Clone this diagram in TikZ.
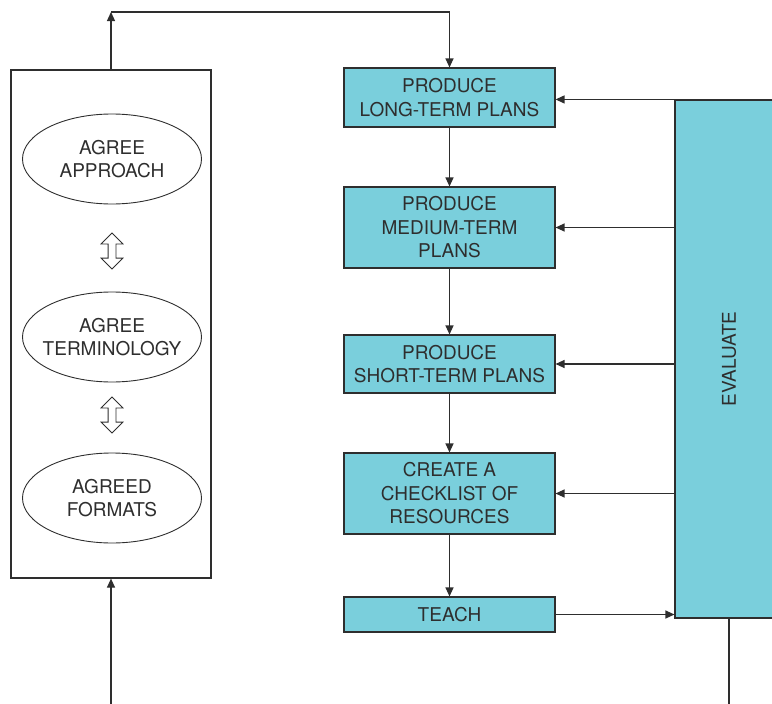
\documentclass[tikz,border=0pt]{standalone}
\usepackage{fontspec}
\setmainfont{TeX Gyre Heros}
\usepackage{xcolor}
\usetikzlibrary{calc}
\usetikzlibrary{shapes.geometric,shapes.arrows,arrows.meta}
\definecolor{planfill}{HTML}{7ACFDC}
\definecolor{ink}{HTML}{2E2E2E}
\newcommand{\ovalline}[1]{\makebox[0pt]{#1}}
\tikzset{
    plan/.style={draw=ink, line width=1.1pt, fill=planfill, minimum width=211pt, align=center, inner sep=0pt, text=ink, font=\fontsize{19}{23.5}\selectfont},
    agreeoval/.style={draw=ink, ellipse, line width=0.9pt, minimum width=179pt, minimum height=90pt, inner sep=0pt, align=center, text=ink, font=\fontsize{19}{23.5}\selectfont},
    swap/.style={draw=ink, double arrow, line width=0.8pt, rotate=90, inner sep=3.5pt, minimum height=36pt, double arrow head extend=7pt},
    arr/.style={draw=ink, line width=1.2pt, -{Triangle[length=9pt,width=8pt]}}
}
\begin{document}
\begin{tikzpicture}[x=1pt, y=-1pt]
    \useasboundingbox (0,0) rectangle (772,704);
    %KOTAK KIRI
    \node[draw=ink, line width=1.2pt, minimum width=200pt, minimum height=508pt] (agree) at (111,324) {};
    \node[agreeoval] (approach) at (112,159) {\ovalline{AGREE}\\\ovalline{APPROACH}};
    \node[agreeoval] (terms) at (112,337) {\ovalline{AGREE}\\\ovalline{TERMINOLOGY}};
    \node[agreeoval] (formats) at (112,498) {\ovalline{AGREED}\\\ovalline{FORMATS}};
    \node[swap] (swapa) at (112,251) {};
    \node[swap] (swapb) at (112,415) {};
    %RENCANA
    \node[plan, minimum height=59pt] (long) at (449.5,97.5) {PRODUCE\\LONG-TERM PLANS};
    \node[plan, minimum height=81pt] (medium) at (449.5,227.5) {PRODUCE\\MEDIUM-TERM\\PLANS};
    \node[plan, minimum height=58pt] (short) at (449.5,364) {PRODUCE\\SHORT-TERM PLANS};
    \node[plan, minimum height=81pt] (check) at (449.5,493.5) {CREATE A\\CHECKLIST OF\\RESOURCES};
    \node[plan, minimum height=35pt] (teach) at (449.5,614.5) {TEACH};
    %EVALUASI
    \node[plan, minimum width=108pt, minimum height=518pt] (eval) at (729,359) {\rotatebox{90}{EVALUATE}};
    %PANAH
    \coordinate (top) at (110,12);
    \coordinate (foot) at (110,704);
    \draw[arr] (agree.north) -- (agree.north |- top);
    \draw[arr] (agree.north |- top) -| (long.north);
    \draw[arr] (agree.south |- foot) -- (agree.south);
    \draw[arr] (long) -- (medium);
    \draw[arr] (medium) -- (short);
    \draw[arr] (short) -- (check);
    \draw[arr] (check) -- (teach);
    \draw[arr] (eval.north west) -- (eval.north west -| long.east);
    \draw[arr] (eval.west |- medium.east) -- (medium.east);
    \draw[arr] (eval.west |- short.east) -- (short.east);
    \draw[arr] (eval.west |- check.east) -- (check.east);
    \draw[arr] (teach.east) -- (teach.east -| eval.west);
    \draw[draw=ink, line width=1.2pt] (eval.south) -- (eval.south |- foot);
\end{tikzpicture}
\end{document}
